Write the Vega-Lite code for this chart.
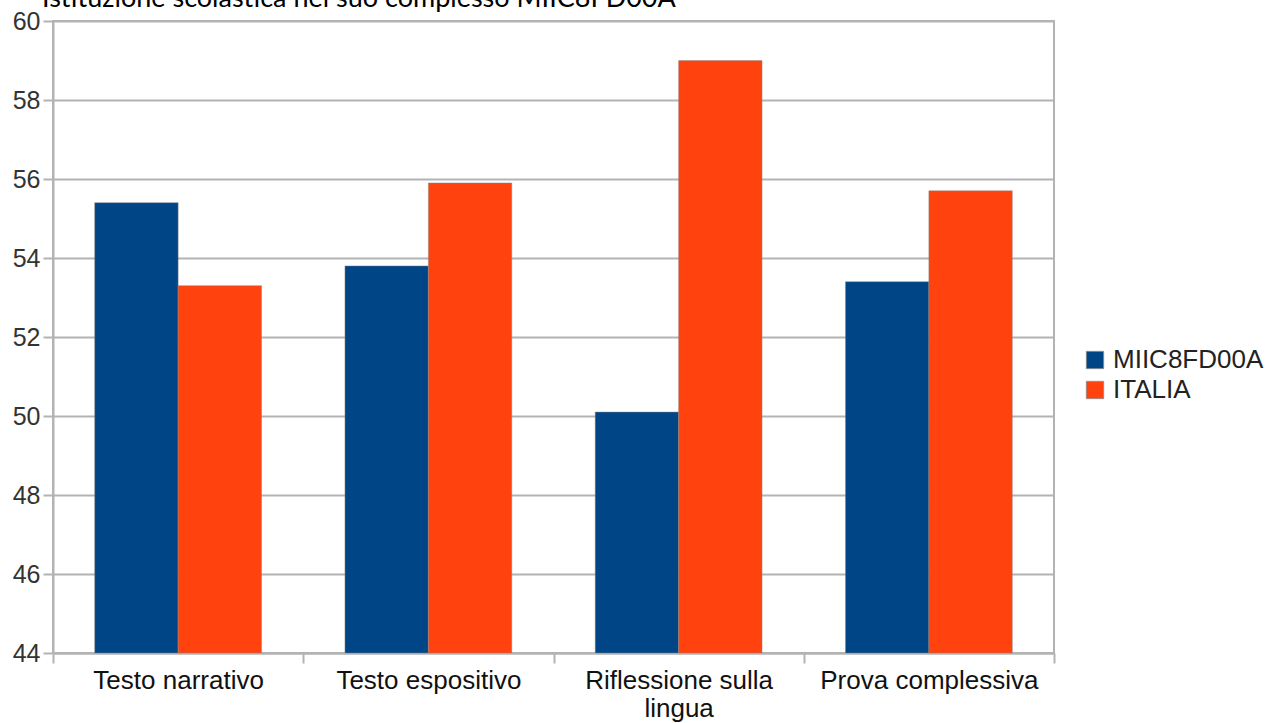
{
  "$schema": "https://vega.github.io/schema/vega-lite/v6.json",
  "width": 1001,
  "height": 632,
  "autosize": {"type": "none"},
  "padding": {"left": 53, "top": 21, "right": 214, "bottom": 70},
  "background": "white",
  "title": {
    "text": "Istituzione scolastica nel suo complesso  MIIC8FD00A",
    "anchor": "start",
    "frame": "group",
    "font": "Lato",
    "fontSize": 27,
    "fontWeight": "normal",
    "color": "#000000",
    "baseline": "alphabetic",
    "offset": 2,
    "dx": -11,
    "dy": 27
  },
  "config": {
    "view": {"stroke": "#b3b3b3", "strokeWidth": 2},
    "font": "Liberation Sans"
  },
  "data": {
    "values": [
      {"categoria": "Testo narrativo", "serie": "MIIC8FD00A", "valore": 55.4},
      {"categoria": "Testo narrativo", "serie": "ITALIA", "valore": 53.3},
      {"categoria": "Testo espositivo", "serie": "MIIC8FD00A", "valore": 53.8},
      {"categoria": "Testo espositivo", "serie": "ITALIA", "valore": 55.9},
      {"categoria": "Riflessione sulla lingua", "serie": "MIIC8FD00A", "valore": 50.1},
      {"categoria": "Riflessione sulla lingua", "serie": "ITALIA", "valore": 59.0},
      {"categoria": "Prova complessiva", "serie": "MIIC8FD00A", "valore": 53.4},
      {"categoria": "Prova complessiva", "serie": "ITALIA", "valore": 55.7}
    ]
  },
  "mark": {"type": "bar", "stroke": "#8a8a8a", "strokeWidth": 0.8, "strokeOpacity": 0.6},
  "encoding": {
    "x": {
      "field": "categoria",
      "type": "nominal",
      "sort": ["Testo narrativo", "Testo espositivo", "Riflessione sulla lingua", "Prova complessiva"],
      "scale": {"paddingInner": 0, "paddingOuter": 0},
      "axis": {
        "title": null,
        "grid": false,
        "domainColor": "#b3b3b3",
        "domainWidth": 2,
        "tickColor": "#b3b3b3",
        "tickWidth": 2,
        "tickSize": 10,
        "tickBand": "extent",
        "labelFontSize": 26,
        "labelColor": "#111111",
        "labelAngle": 0,
        "labelPadding": 4,
        "labelLimit": 0,
        "labelLineHeight": 28,
        "labelExpr": "datum.label == 'Riflessione sulla lingua' ? ['Riflessione sulla', 'lingua'] : datum.label"
      }
    },
    "xOffset": {
      "field": "serie",
      "type": "nominal",
      "sort": ["MIIC8FD00A", "ITALIA"],
      "scale": {"paddingInner": 0, "paddingOuter": 0.5}
    },
    "y": {
      "field": "valore",
      "type": "quantitative",
      "scale": {"domain": [44, 60], "zero": false, "nice": false},
      "axis": {
        "title": null,
        "values": [44, 46, 48, 50, 52, 54, 56, 58, 60],
        "grid": true,
        "gridColor": "#b3b3b3",
        "gridWidth": 2,
        "domainColor": "#b3b3b3",
        "domainWidth": 2,
        "tickColor": "#b3b3b3",
        "tickWidth": 2,
        "tickSize": 10,
        "labelFontSize": 25,
        "labelColor": "#333333",
        "labelPadding": 3
      }
    },
    "y2": {"datum": 44},
    "color": {
      "field": "serie",
      "type": "nominal",
      "scale": {"domain": ["MIIC8FD00A", "ITALIA"], "range": ["#004586", "#ff420e"]},
      "legend": {
        "title": null,
        "orient": "none",
        "legendX": 1029,
        "legendY": 326,
        "symbolType": "square",
        "symbolSize": 300,
        "symbolStrokeColor": "#888888",
        "symbolStrokeWidth": 0.8,
        "labelFontSize": 26,
        "labelColor": "#222222",
        "rowPadding": 4,
        "padding": 0,
        "labelOffset": 5
      }
    }
  }
}
